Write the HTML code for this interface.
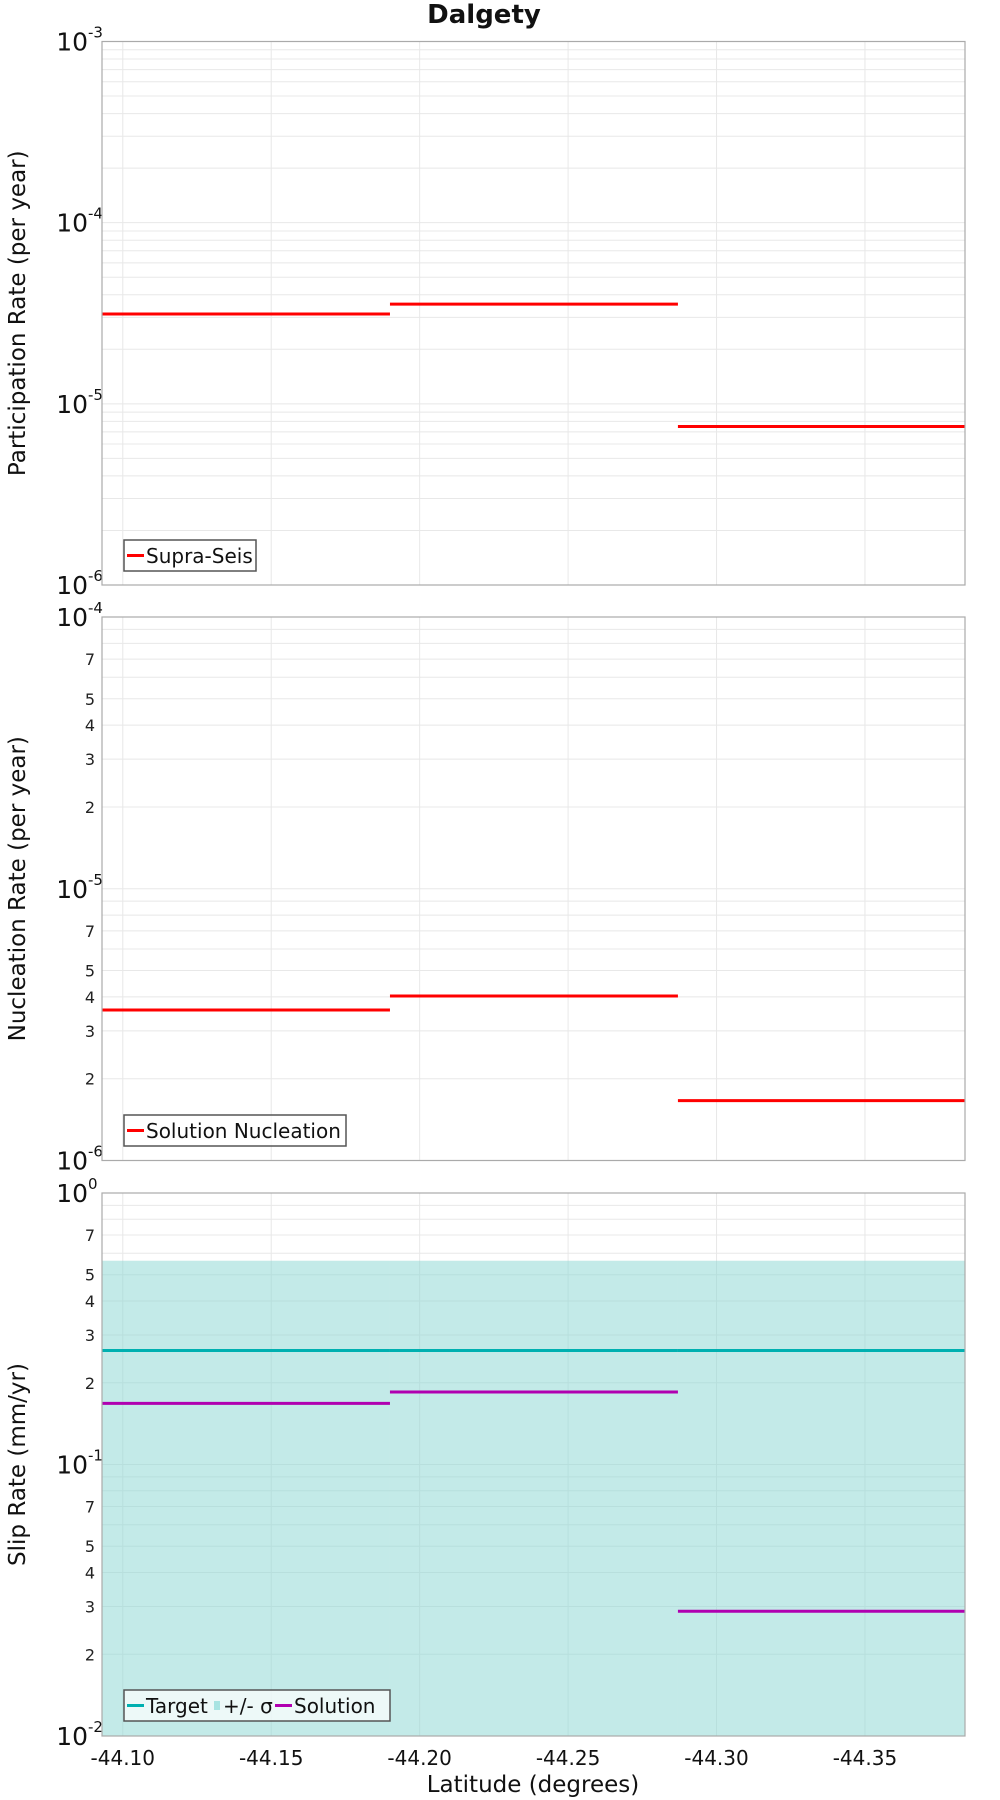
<!DOCTYPE html>
<html><head><meta charset="utf-8"><style>
body{margin:0;background:#fff;}
svg{display:block;font-family:"DejaVu Sans","Liberation Sans",sans-serif;}
</style></head><body>
<svg id="c" width="1000" height="1800" viewBox="0 0 1000 1800"></svg>
<script>
const binEdges = [-44.093, -44.190, -44.287, -44.3837];
const supraSeis = [3.13e-5, 3.55e-5, 7.5e-6];
const nucleation = [3.58e-6, 4.03e-6, 1.66e-6];
const slipTarget = [0.263, 0.263, 0.263];
const slipSigmaHi = [0.563, 0.563, 0.563];
const slipSigmaLo = [0.001, 0.001, 0.001];
const slipSolution = [0.168, 0.185, 0.0288];
const xTicks = [-44.10, -44.15, -44.20, -44.25, -44.30, -44.35];
const xTickLabels = ["-44.10", "-44.15", "-44.20", "-44.25", "-44.30", "-44.35"];

const NS = "http://www.w3.org/2000/svg";
const svg = document.getElementById('c');
const L = 102, R = 965;
const xMin = binEdges[0], xMax = binEdges[binEdges.length - 1];
function xs(v) { return L + (v - xMin) / (xMax - xMin) * (R - L); }
function mk(tag, attrs, parent) {
  const e = document.createElementNS(NS, tag);
  for (const k in attrs) e.setAttribute(k, attrs[k]);
  (parent || svg).appendChild(e);
  return e;
}
function panel(top, bottom, eMin, eMax, name, ytitle, minorLabels) {
  const g = mk('g', {});
  
  
  const ys = v => bottom - (Math.log10(v) - eMin) / (eMax - eMin) * (bottom - top);
  for (let e = eMin; e < eMax; e++) {
    for (let m = 1; m <= 9; m++) {
      const y = ys(m * Math.pow(10, e));
      const gl = mk('line', {x1: L, x2: R, y1: y, y2: y, stroke: '#e8e8e8', 'stroke-width': 1}, g);
      
      
      if (minorLabels && [2,3,4,5,7].includes(m)) {
        const t = mk('text', {x: 95, y: y + 6, 'font-size': 16, 'text-anchor': 'end', fill: '#222'}, g);
        t.textContent = m;
        
        
      }
    }
  }
  xTicks.forEach(v => {
    const gl = mk('line', {x1: xs(v), x2: xs(v), y1: top, y2: bottom, stroke: '#e8e8e8'}, g);
    
    
  });
  for (let e = eMin; e <= eMax; e++) {
    const y = ys(Math.pow(10, e));
    const t = mk('text', {x: 88, y: y + 9, 'font-size': 25, 'text-anchor': 'end', fill: '#111'}, g);
    t.textContent = '10';
    
    
    const s = mk('text', {x: 88, y: y - 4, 'font-size': 15, fill: '#111'}, g);
    s.textContent = String(e);
    
    
  }
  const yt = mk('text', {x: 0, y: 0, 'font-size': 23, 'text-anchor': 'middle', fill: '#111',
    transform: `translate(25,${(top + bottom) / 2}) rotate(-90)`}, g);
  yt.textContent = ytitle;
  
  
  return {g, ys, top, bottom};
}
function steps(p, vals, color, w, name) {
  vals.forEach((v, i) => {
    const ln = mk('line', {x1: xs(binEdges[i]), x2: xs(binEdges[i + 1]), y1: p.ys(v), y2: p.ys(v), stroke: color, 'stroke-width': w}, p.g);
    
    
  });
}
function frame(p) {
  const r = mk('rect', {x: L, y: p.top, width: R - L, height: p.bottom - p.top, fill: 'none', stroke: '#aaa', 'stroke-width': 1.2}, p.g);
  
  
}
function legend(p, x, y, w, items) {
  const lg = mk('g', {}, p.g);
  
  
  const b = mk('rect', {x: x, y: y, width: w, height: 31, fill: 'rgba(255,255,255,0.7)', stroke: '#555', 'stroke-width': 1.5}, lg);
  
  
  let cx = x + 3;
  items.forEach(it => {
    if (it.box) {
      const sw = mk('rect', {x: cx, y: y + 11, width: 6, height: 9, fill: it.color}, lg);
      
      
      cx += 9;
    } else {
      const sw = mk('line', {x1: cx, x2: cx + 17, y1: y + 15.5, y2: y + 15.5, stroke: it.color, 'stroke-width': 3}, lg);
      
      
      cx += 19;
    }
    const t = mk('text', {x: cx, y: y + 23, 'font-size': 20, fill: '#111'}, lg);
    t.textContent = it.label;
    
    
    cx += it.w;
  });
}

const title = mk('text', {x: 484, y: 23, 'font-size': 26, 'font-weight': 'bold', 'text-anchor': 'middle', fill: '#111'});
title.textContent = 'Dalgety';



const p1 = panel(41.5, 585, -6, -3, 'participation', 'Participation Rate (per year)', false);
steps(p1, supraSeis, '#ff0000', 3, 'supra-seis');
frame(p1);
legend(p1, 124, 540, 132, [{label: 'Supra-Seis', color: '#ff0000', w: 100}]);

const p2 = panel(617, 1160.5, -6, -4, 'nucleation', 'Nucleation Rate (per year)', true);
steps(p2, nucleation, '#ff0000', 3, 'solution-nucleation');
frame(p2);
legend(p2, 124, 1115, 222, [{label: 'Solution Nucleation', color: '#ff0000', w: 190}]);

const p3 = panel(1193, 1736, -2, 0, 'slip-rate', 'Slip Rate (mm/yr)', true);
slipSigmaHi.forEach((v, i) => {
  const yTop = p3.ys(v), yBot = Math.min(p3.bottom, p3.ys(slipSigmaLo[i]));
  const r = mk('rect', {x: xs(binEdges[i]), y: yTop, width: xs(binEdges[i + 1]) - xs(binEdges[i]), height: Math.max(0, yBot - yTop), fill: 'rgba(135,213,210,0.5)'}, p3.g);
  
  
});
steps(p3, slipTarget, '#00b0b0', 3, 'target');
steps(p3, slipSolution, '#b000b0', 3, 'solution');
frame(p3);
legend(p3, 124, 1690, 266, [
  {label: 'Target', color: '#00b0b0', w: 68},
  {label: '+/- σ', color: '#a8e4e2', box: true, w: 52},
  {label: 'Solution', color: '#b000b0', w: 80}
]);

xTicks.forEach((v, i) => {
  const t = mk('text', {x: xs(v), y: 1765, 'font-size': 20, 'text-anchor': 'middle', fill: '#111'});
  t.textContent = xTickLabels[i];
  
  
});
const xt = mk('text', {x: 533, y: 1792, 'font-size': 23, 'text-anchor': 'middle', fill: '#111'});
xt.textContent = 'Latitude (degrees)';


</script>
</body></html>
